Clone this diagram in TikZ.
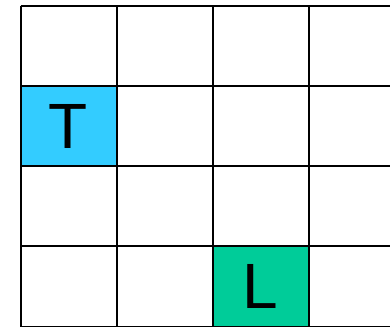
\documentclass[tikz,border=0pt]{standalone}
\usepackage{fontspec}
\setmainfont{Liberation Sans}
\definecolor{cellblue}{HTML}{33CCFF}
\definecolor{cellgreen}{HTML}{00CC99}
\begin{document}
\begin{tikzpicture}[x=1pt,y=1pt,
  gridline/.style={draw=black,line width=2pt},
  letter/.style={font=\fontsize{64}{64}\selectfont,text=black,inner sep=0pt,anchor=center}]
\useasboundingbox (0,0) rectangle (390,326);
\clip (0,0) rectangle (390,326);
\fill[white] (0,0) rectangle (390,326);
% coloured cells
\fill[cellblue] (20.5,159.5) rectangle (116.5,239.5);
\fill[cellgreen] (212.5,-0.5) rectangle (308.5,79.5);
% grid
\foreach \x in {20.5,116.5,212.5,308.5,404.5}
  \draw[gridline] (\x,-0.5) -- (\x,319.5);
\foreach \y in {-0.5,79.5,159.5,239.5,319.5}
  \draw[gridline] (20.5,\y) -- (404.5,\y);
% letters
\node[letter] (t) at (68.5,199.5) {T};
\node[letter] (l) at (260.5,39.5) {L};
\end{tikzpicture}
\end{document}
